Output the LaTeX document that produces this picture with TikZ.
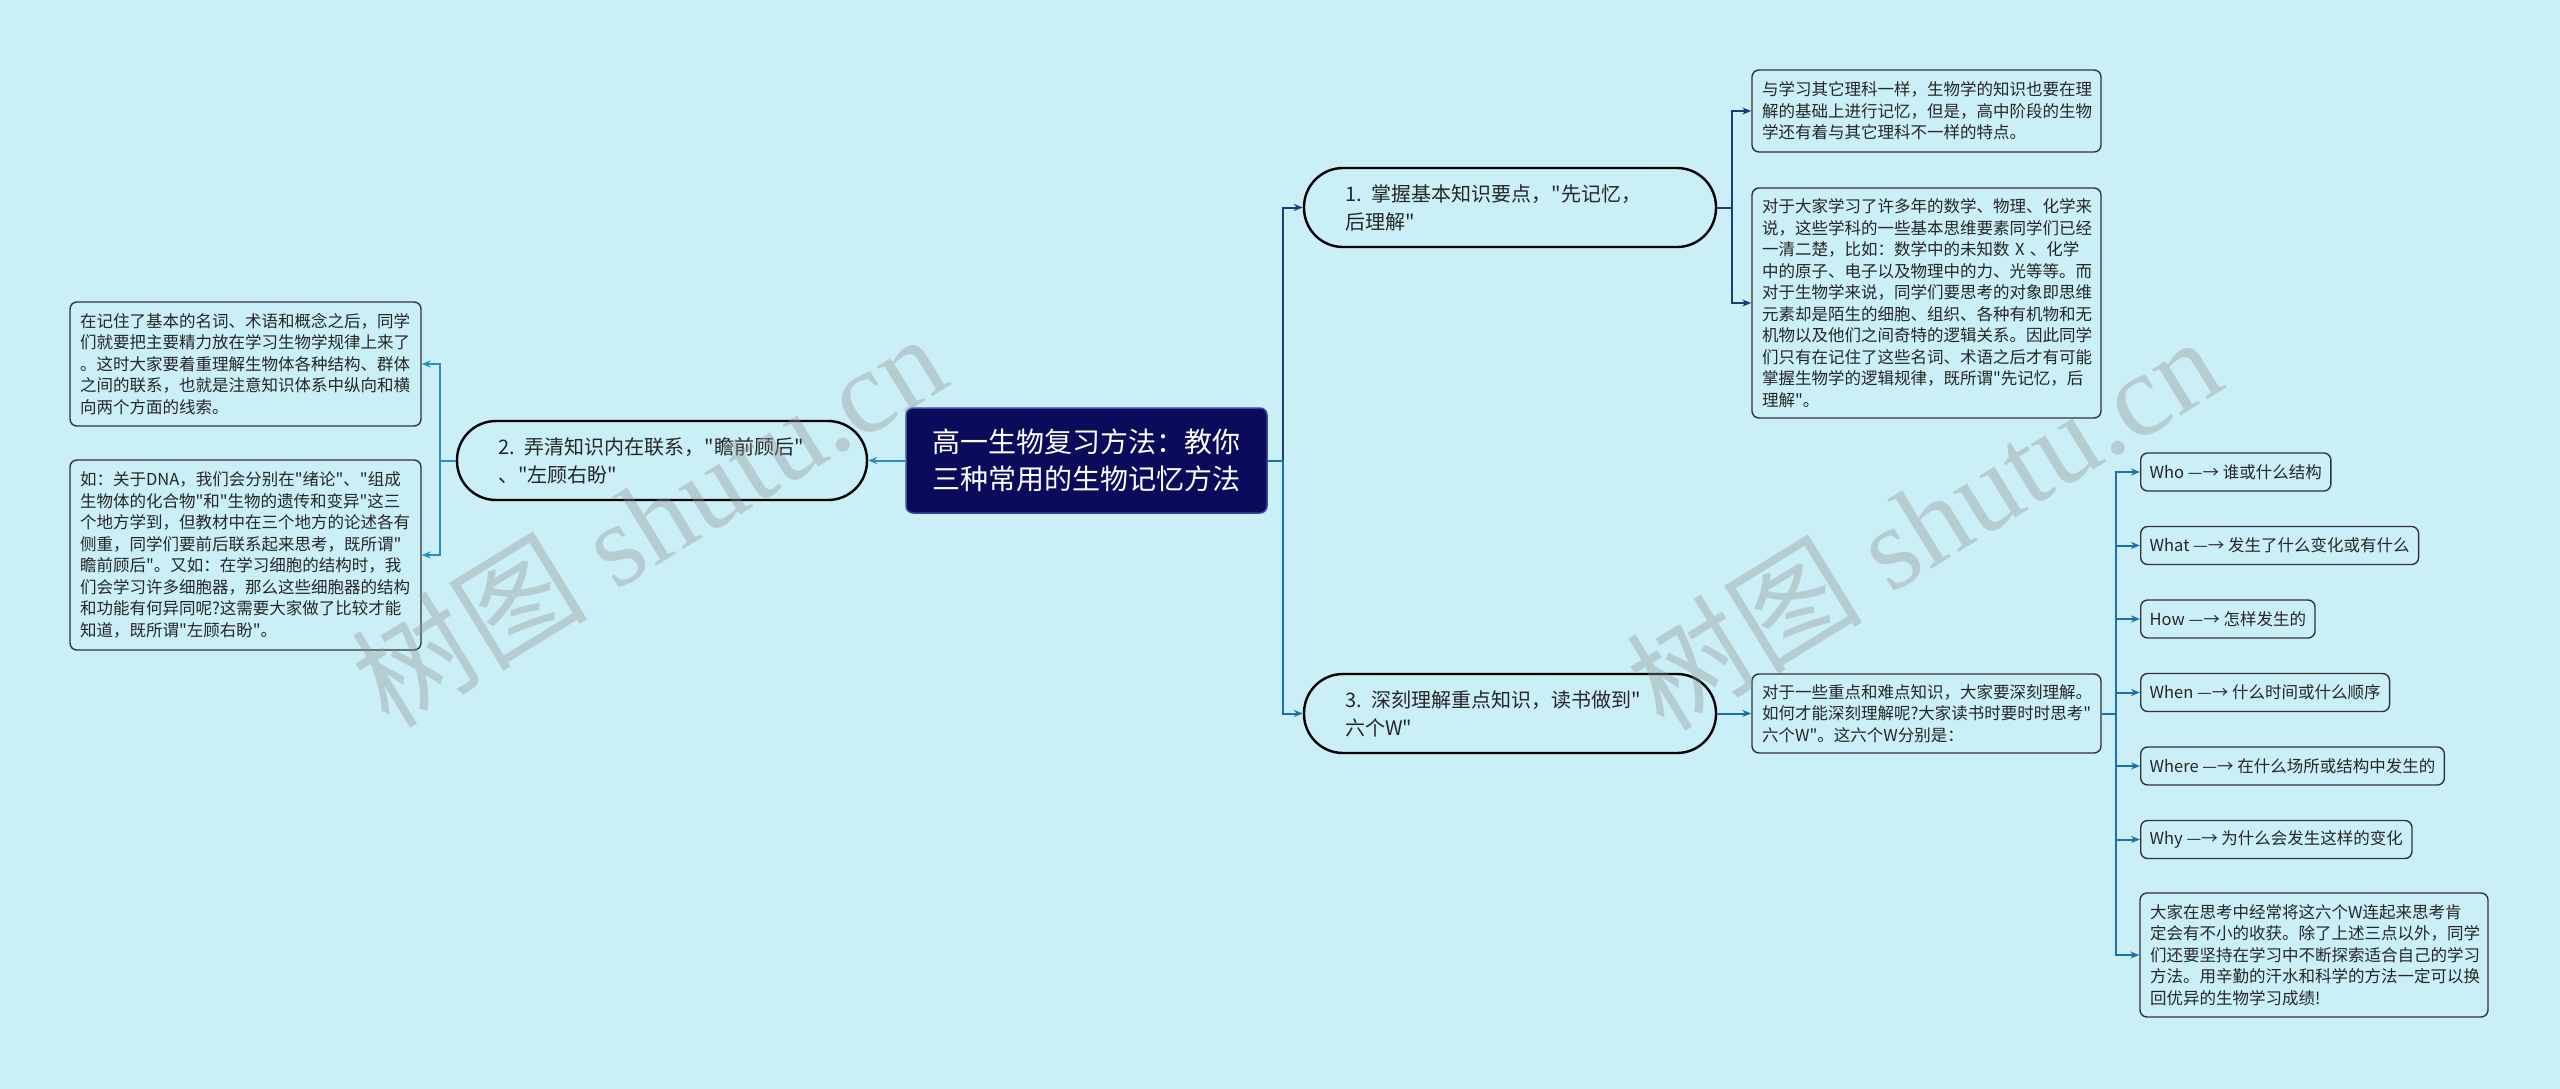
\documentclass[tikz,border=0pt]{standalone}
\usepackage{fontspec}
\newfontfamily\cjk{Noto Sans CJK SC}
\newfontfamily\wmserif{Liberation Serif}
\usetikzlibrary{arrows.meta}
\definecolor{bg}{HTML}{CAEFF7}
\definecolor{rootfill}{HTML}{0B0B5C}
\definecolor{rootborder}{HTML}{3A4AA0}
\definecolor{cup}{HTML}{1B3D7E}
\definecolor{cdown}{HTML}{1E70AA}
\definecolor{cleft}{HTML}{2A8EC2}
\begin{document}
\begin{tikzpicture}[x=1pt,y=-1pt,
  rootbox/.style={fill=rootfill, draw=rootborder, line width=1.5pt, rounded corners=7pt,
    minimum width=361pt, minimum height=105pt, text=white, align=center,
    font=\cjk\fontsize{28}{37}\selectfont},
  topic/.style={draw=black, line width=2.4pt, rounded corners=39pt, fill=bg,
    minimum height=79pt, inner xsep=41pt, align=left, text=black!85,
    font=\cjk\fontsize{20}{28}\selectfont},
  leaf/.style={draw=black!80, line width=1.4pt, rounded corners=7pt, fill=bg,
    inner xsep=10pt, align=left, text=black!85,
    font=\cjk\fontsize{16.5}{21.5}\selectfont},
  wleaf/.style={draw=black!80, line width=1.4pt, rounded corners=7pt, fill=bg,
    inner xsep=9pt, minimum height=38pt, anchor=west, text=black!85,
    font=\cjk\fontsize{16.5}{21.5}\selectfont},
  conn/.style={line width=2pt, -{Stealth[length=9pt,width=7pt]}},
  wm/.style={text=gray!85, opacity=0.38, font=\wmserif\fontsize{118}{118}\selectfont}
]
\fill[bg] (0,0) rectangle (2560,1089);
\useasboundingbox (0,0) rectangle (2560,1089);

% root
\node[rootbox] (r) at (1086.5,460.5) {高一生物复习方法：教你\\三种常用的生物记忆方法};

% topics
\node[topic, minimum width=412pt, text width=330pt] (t1) at (1510,207.5) {1. 掌握基本知识要点，"先记忆，\\后理解"};
\node[topic, minimum width=410pt, text width=328pt] (t2) at (662,460.5) {2. 弄清知识内在联系，"瞻前顾后"\\、"左顾右盼"};
\node[topic, minimum width=412pt, text width=330pt] (t3) at (1510,713.5) {3. 深刻理解重点知识，读书做到"\\六个W"};

% left leaves
\node[leaf, minimum width=351pt, text width=331pt, minimum height=124pt] (la) at (245.5,364) {在记住了基本的名词、术语和概念之后，同学\\们就要把主要精力放在学习生物学规律上来了\\。这时大家要着重理解生物体各种结构、群体\\之间的联系，也就是注意知识体系中纵向和横\\向两个方面的线索。};
\node[leaf, minimum width=351pt, text width=331pt, minimum height=190pt] (lb) at (245.5,555) {如：关于DNA，我们会分别在"绪论"、"组成\\生物体的化合物"和"生物的遗传和变异"这三\\个地方学到，但教材中在三个地方的论述各有\\侧重，同学们要前后联系起来思考，既所谓"\\瞻前顾后"。又如：在学习细胞的结构时，我\\们会学习许多细胞器，那么这些细胞器的结构\\和功能有何异同呢?这需要大家做了比较才能\\知道，既所谓"左顾右盼"。};

% right leaves of topic 1
\node[leaf, minimum width=349pt, text width=329pt, minimum height=82pt] (ra) at (1926.5,111) {与学习其它理科一样，生物学的知识也要在理\\解的基础上进行记忆，但是，高中阶段的生物\\学还有着与其它理科不一样的特点。};
\node[leaf, minimum width=349pt, text width=329pt, minimum height=230pt] (rb) at (1926.5,303) {对于大家学习了许多年的数学、物理、化学来\\说，这些学科的一些基本思维要素同学们已经\\一清二楚，比如：数学中的未知数 X 、化学\\中的原子、电子以及物理中的力、光等等。而\\对于生物学来说，同学们要思考的对象即思维\\元素却是陌生的细胞、组织、各种有机物和无\\机物以及他们之间奇特的逻辑关系。因此同学\\们只有在记住了这些名词、术语之后才有可能\\掌握生物学的逻辑规律，既所谓"先记忆，后\\理解"。};

% topic 3 leaf
\node[leaf, minimum width=349pt, text width=329pt, minimum height=79pt] (rc) at (1926.5,713.5) {对于一些重点和难点知识，大家要深刻理解。\\如何才能深刻理解呢?大家读书时要时时思考"\\六个W"。这六个W分别是：};

% W leaves
\node[wleaf] (w1) at (2140,472) {Who —→ 谁或什么结构};
\node[wleaf] (w2) at (2140,545.5) {What —→ 发生了什么变化或有什么};
\node[wleaf] (w3) at (2140,619) {How —→ 怎样发生的};
\node[wleaf] (w4) at (2140,692.5) {When —→ 什么时间或什么顺序};
\node[wleaf] (w5) at (2140,766) {Where —→ 在什么场所或结构中发生的};
\node[wleaf] (w6) at (2140,839.5) {Why —→ 为什么会发生这样的变化};
\node[leaf, minimum width=348pt, text width=328pt, minimum height=124pt] (w7) at (2314,955) {大家在思考中经常将这六个W连起来思考肯\\定会有不小的收获。除了上述三点以外，同学\\们还要坚持在学习中不断探索适合自己的学习\\方法。用辛勤的汗水和科学的方法一定可以换\\回优异的生物学习成绩!};

% connectors from root
\draw[conn, cleft] (r.west) -- (t2.east);
\draw[conn, cup] (r.east) -- ++(15,0) |- (t1.west);
\draw[conn, cdown] (r.east) -- ++(15,0) |- (t3.west);

% topic 2 -> leaves
\draw[conn, cleft] (t2.west) -- ++(-16,0) |- (la.east);
\draw[conn, cleft] (t2.west) -- ++(-16,0) |- (lb.east);

% topic 1 -> leaves
\draw[conn, cup] (t1.east) -- ++(15,0) |- (ra.west);
\draw[conn, cup] (t1.east) -- ++(15,0) |- (rb.west);

% topic 3 -> leaf
\draw[conn, cdown] (t3.east) -- (rc.west);

% rc -> W leaves
\foreach \n in {w1,w2,w3,w4,w5,w6,w7}{
  \draw[conn, cdown] (rc.east) -- ++(14,0) |- (\n.west);
}

% watermarks
\node[wm, rotate=31.6] (wm1) at (648,519) {{\cjk 树图} shutu.cn};
\node[wm, rotate=31.6] (wm2) at (1923,522) {{\cjk 树图} shutu.cn};
\end{tikzpicture}
\end{document}
